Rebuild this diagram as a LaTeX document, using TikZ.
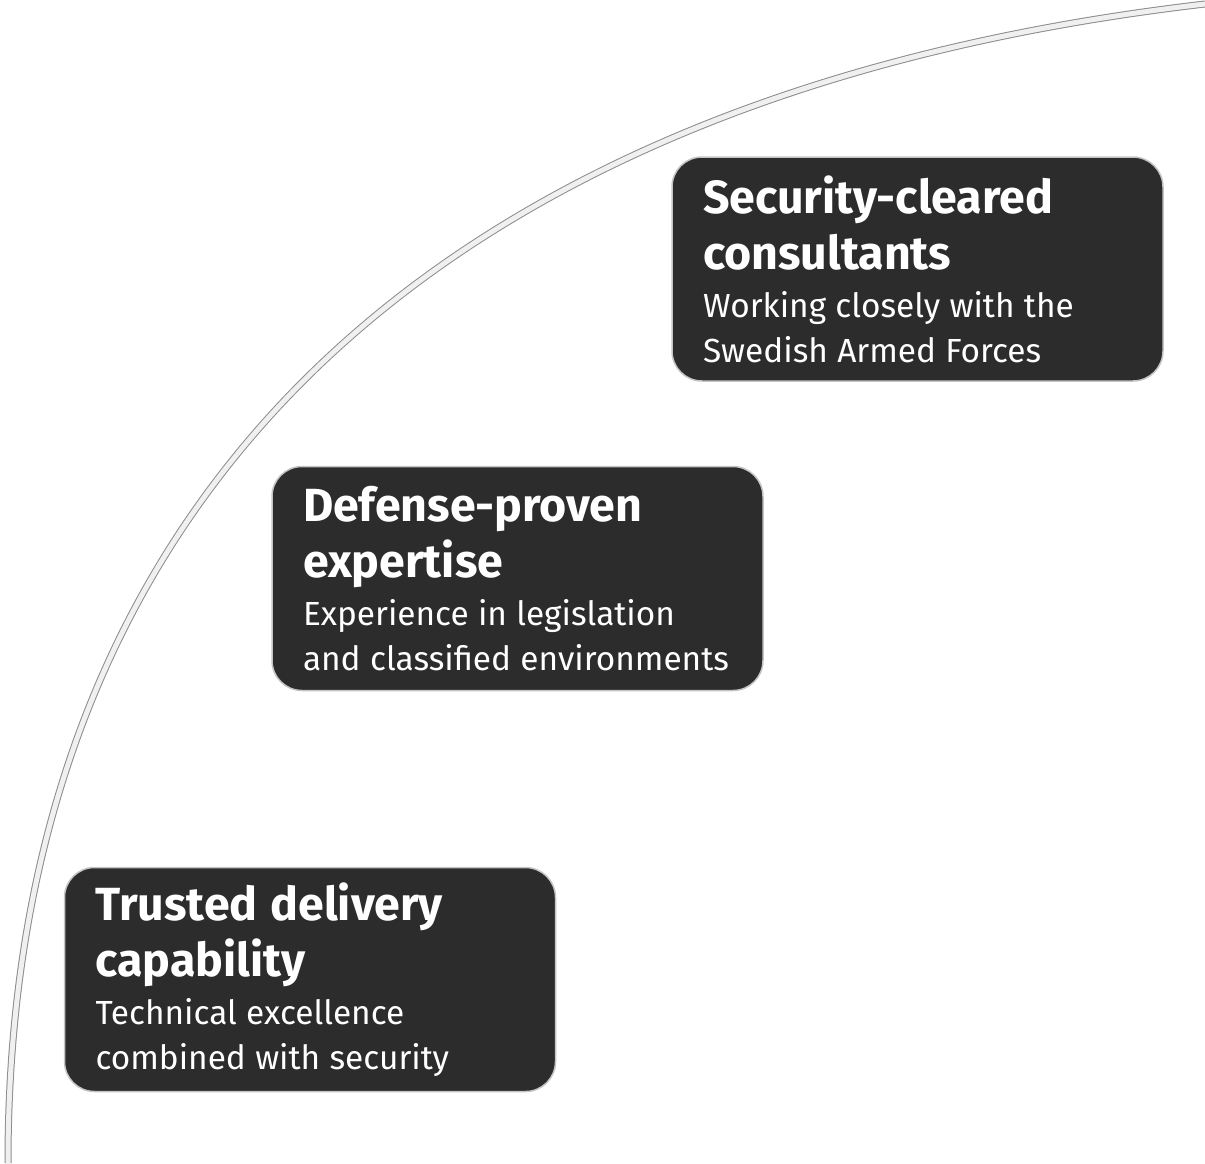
\documentclass[tikz,border=0pt]{standalone}
\usepackage{fontspec}
\setmainfont{Fira Sans}
\usepackage{tikz}

\definecolor{boxfill}{HTML}{2C2C2C}
\definecolor{boxrim}{HTML}{C4C4C4}
\definecolor{bandfill}{HTML}{F0F0F0}
\definecolor{bandline}{HTML}{8C8C8C}
\newcommand{\headfont}{\fontsize{46.5}{56}\selectfont\bfseries\spaceskip=.28em\relax}
\newcommand{\bodyfont}{\fontsize{33.4}{45}\selectfont\spaceskip=.28em\relax}

\begin{document}
\begin{tikzpicture}[
            x = 1pt, y = -1pt, % pixel grid, y runs down
            line join = round
        ]

        \tikzstyle{card}=[
            draw = boxrim,
            line width = 1.5pt,
            fill = boxfill,
            text = white,
            rounded corners = 30pt,
            minimum height = 224pt,
            text width = 429pt,
            inner xsep = 31pt,
            inner ysep = 0pt,
            align = left
        ]
        \tikzstyle{bandout}=[draw = bandline, line width = 7pt]
        \tikzstyle{bandin}=[draw = bandfill, line width = 5pt]

        \useasboundingbox (0,0) rectangle (1205,1163);

        % the sweeping band
        \coordinate (bandfoot) at (8,1163);
        \coordinate (bandtip) at (1205,4);
        \foreach \bandstyle in {bandout, bandin}
            \draw[\bandstyle] (bandfoot) .. controls (8,463) and (475,88.7) .. (bandtip);

        \node[card] (cleared) at (917.5,269) {%
            {\headfont Security-cleared\\consultants\par}\vspace{3pt}
            {\bodyfont Working closely with the\\Swedish Armed Forces\par}};
        \node[card] (proven) at (517.5,578.5) {%
            {\headfont Defense-proven\\expertise\par}\vspace{3pt}
            {\bodyfont Experience in legislation\\and classified environments\par}};
        \node[card] (trusted) at (310,979.5) {%
            {\headfont Trusted delivery\\capability\par}\vspace{3pt}
            {\bodyfont Technical excellence\\combined with security\par}};

  \end{tikzpicture}
\end{document}
